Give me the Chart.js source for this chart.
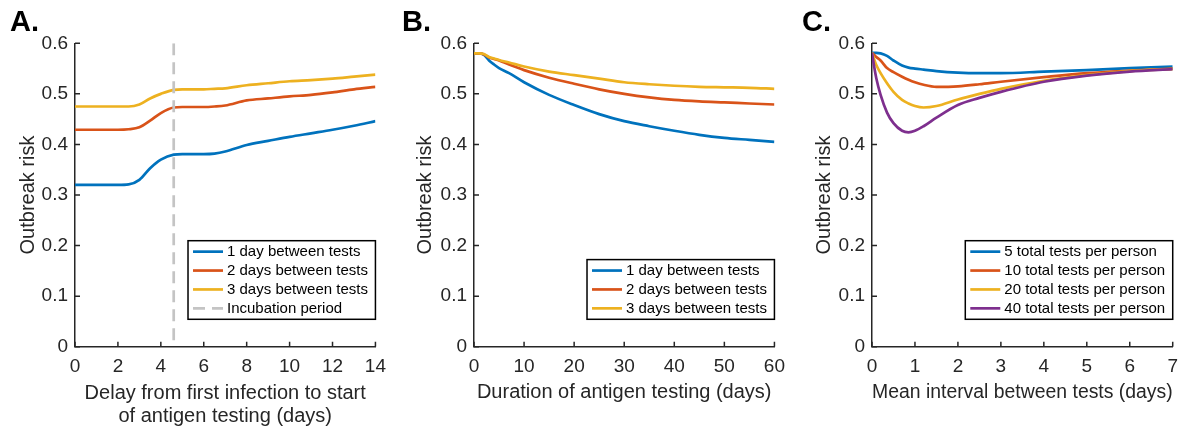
<!DOCTYPE html>
<html>
<head>
<meta charset="utf-8">
<script src="https://cdn.jsdelivr.net/npm/chart.js@4"></script>
<style>
  body { margin: 0; background: #fff; }
  #wrap { position: relative; width: 1187px; height: 430px; overflow: hidden; }
  .panel { position: absolute; top: 0; height: 430px; }
  .tag { position: absolute; top: 6px; font: bold 29px "Liberation Sans", Arial, sans-serif; line-height: 30px; color: #000; }
</style>
</head>
<body>
<div id="wrap">
  <div class="panel" style="left:0;width:395px"><canvas id="chartA"></canvas></div>
  <div class="panel" style="left:399px;width:395px"><canvas id="chartB"></canvas></div>
  <div class="panel" style="left:797px;width:390px"><canvas id="chartC"></canvas></div>
  <div class="tag" style="left:10px">A.</div>
  <div class="tag" style="left:402px">B.</div>
  <div class="tag" style="left:802px">C.</div>
</div>
<script>
// colours (MATLAB default order)
const blue = '#0072BD', orange = '#D95319', yellow = '#EDB120', purple = '#7E2F8E';
const ink = '#262626';
const fam = '"Liberation Sans", Helvetica, Arial, sans-serif';

// y axis shared by all panels
const yTicks = [0, 0.1, 0.2, 0.3, 0.4, 0.5, 0.6];

// panel A: delay before antigen testing starts
const delayDays = [0, 1, 2, 2.5, 3, 3.5, 4, 4.6, 5, 6, 6.5, 7, 8, 9, 10, 11, 12, 13, 14];
const delay1 = [0.32, 0.32, 0.32, 0.321, 0.33, 0.353, 0.37, 0.38, 0.381, 0.381, 0.382, 0.386, 0.399, 0.407, 0.415, 0.422, 0.429, 0.437, 0.446];
const delay2 = [0.429, 0.429, 0.429, 0.43, 0.434, 0.447, 0.462, 0.473, 0.474, 0.474, 0.475, 0.477, 0.487, 0.491, 0.495, 0.498, 0.503, 0.509, 0.514];
const delay3 = [0.475, 0.475, 0.475, 0.475, 0.479, 0.491, 0.5, 0.508, 0.509, 0.509, 0.51, 0.511, 0.517, 0.521, 0.525, 0.527, 0.53, 0.534, 0.538];
const incubation = 4.6;
const labelsAB = ['1 day between tests', '2 days between tests', '3 days between tests'];

// panel B: duration of testing
const durDays = [0, 1, 2, 3, 4, 5, 7, 10, 15, 20, 25, 30, 35, 40, 45, 50, 55, 60];
const dur1 = [0.58, 0.58, 0.577, 0.566, 0.558, 0.551, 0.541, 0.523, 0.498, 0.478, 0.46, 0.446, 0.436, 0.427, 0.419, 0.413, 0.409, 0.405];
const dur2 = [0.58, 0.58, 0.578, 0.572, 0.569, 0.566, 0.558, 0.547, 0.532, 0.52, 0.509, 0.5, 0.493, 0.488, 0.485, 0.483, 0.481, 0.479];
const dur3 = [0.58, 0.58, 0.579, 0.573, 0.57, 0.567, 0.562, 0.554, 0.544, 0.537, 0.53, 0.523, 0.519, 0.516, 0.514, 0.513, 0.512, 0.51];

// panel C: mean interval between tests
const interval = [0, 0.05, 0.1, 0.2, 0.35, 0.5, 0.7, 0.85, 1, 1.2, 1.5, 2, 2.5, 3, 4, 5, 6, 7];
const tests5 = [0.581, 0.581, 0.581, 0.58, 0.575, 0.566, 0.556, 0.552, 0.55, 0.548, 0.545, 0.542, 0.541, 0.541, 0.544, 0.547, 0.551, 0.554];
const tests10 = [0.581, 0.577, 0.573, 0.566, 0.551, 0.543, 0.534, 0.528, 0.523, 0.518, 0.514, 0.515, 0.519, 0.524, 0.533, 0.541, 0.546, 0.55];
const tests20 = [0.581, 0.568, 0.557, 0.541, 0.521, 0.504, 0.488, 0.481, 0.476, 0.473, 0.476, 0.489, 0.5, 0.51, 0.526, 0.537, 0.545, 0.549];
const tests40 = [0.581, 0.554, 0.531, 0.498, 0.463, 0.442, 0.427, 0.424, 0.427, 0.436, 0.453, 0.478, 0.492, 0.504, 0.524, 0.536, 0.544, 0.549];
const labelsC = ['5 total tests per person', '10 total tests per person', '20 total tests per person', '40 total tests per person'];

function pts(xs, ys) {
    return xs.map((x, i) => ({ x: x, y: ys[i] }));
}

function series(label, xs, ys, color, i) {
    return {
        label: label, data: pts(xs, ys), borderColor: color, borderWidth: 2.7,
        pointRadius: 0, fill: false, cubicInterpolationMode: 'monotone', order: 10 - i
    };
}

// MATLAB style inward ticks
const inTicks = {
    id: 'inTicks',
    afterDraw(chart) {
        const ctx = chart.ctx, xs = chart.scales.x, ys = chart.scales.y;
        const a = chart.chartArea;
        ctx.save();
        ctx.strokeStyle = ink;
        ctx.lineWidth = 1.5;
        ctx.beginPath();
        xs.ticks.forEach(t => {
            const p = xs.getPixelForValue(t.value);
            ctx.moveTo(p, a.bottom); ctx.lineTo(p, a.bottom - 5);
        });
        ys.ticks.forEach(t => {
            const p = ys.getPixelForValue(t.value);
            ctx.moveTo(a.left, p); ctx.lineTo(a.left + 5, p);
        });
        ctx.stroke();
        ctx.restore();
    }
};

// boxed legend in the lower right corner
const boxLegend = {
    id: 'boxLegend',
    afterDraw(chart) {
        const ctx = chart.ctx, a = chart.chartArea;
        const sets = chart.data.datasets;
        const rowH = 18.9;
        ctx.save();
        ctx.font = '15px ' + fam;
        const tw = Math.max(...sets.map(d => ctx.measureText(d.label).width));
        const w = 5 + 30 + 4 + tw + 7.5;
        const h = rowH * sets.length + 3;
        const right = a.right, bottom = a.bottom - 27.4;
        const left = right - w, top = bottom - h;
        ctx.fillStyle = '#fff';
        ctx.fillRect(left, top, w, h);
        sets.forEach((d, i) => {
            const cy = top + 1.5 + rowH * (i + 0.5);
            ctx.strokeStyle = d.borderColor;
            ctx.lineWidth = 2.7;
            ctx.setLineDash(d.borderDash || []);
            ctx.beginPath();
            ctx.moveTo(left + 5, cy); ctx.lineTo(left + 35, cy);
            ctx.stroke();
            ctx.fillStyle = '#000';
            ctx.textBaseline = 'middle';
            ctx.fillText(d.label, left + 39, cy + 0.5);
        });
        ctx.setLineDash([]);
        ctx.strokeStyle = '#000';
        ctx.lineWidth = 1.5;
        ctx.strokeRect(left, top, w, h);
        ctx.restore();
    }
};

function makeChart(id, datasets, xMax, xStep, xTitle, xTitlePad, yTitlePad, rightPad) {
    return new Chart(document.getElementById(id), {
        type: 'line',
        data: { datasets: datasets },
        plugins: [inTicks, boxLegend],
        options: {
            responsive: true,
            maintainAspectRatio: false,
            animation: false,
            layout: { padding: { top: 43.3, right: rightPad, left: 0, bottom: 0 } },
            plugins: { legend: { display: false }, tooltip: { enabled: false } },
            scales: {
                x: {
                    type: 'linear', min: 0, max: xMax,
                    grid: { display: false, drawTicks: false },
                    border: { display: true, color: ink, width: 1.5 },
                    ticks: { stepSize: xStep, autoSkip: false, maxRotation: 0, padding: 9, color: ink, font: { family: fam, size: 19 } },
                    title: { display: true, text: xTitle, color: ink, padding: { top: 0, bottom: xTitlePad }, font: { family: fam, size: 20, lineHeight: 1.15 } },
                    afterFit(s) { s.height = 83.3; }
                },
                y: {
                    min: 0, max: 0.6,
                    afterBuildTicks(s) { s.ticks = yTicks.map(v => ({ value: v })); },
                    grid: { display: false, drawTicks: false },
                    border: { display: true, color: ink, width: 1.5 },
                    ticks: { padding: 7, color: ink, font: { family: fam, size: 19 }, callback: v => String(Math.round(v * 10) / 10) },
                    title: { display: true, text: 'Outbreak risk', color: ink, padding: { top: yTitlePad, bottom: 0 }, font: { family: fam, size: 20, lineHeight: 1.2 } },
                    afterFit(s) { s.width = 75; }
                }
            }
        }
    });
}

const setsA = [
    series(labelsAB[0], delayDays, delay1, blue, 0),
    series(labelsAB[1], delayDays, delay2, orange, 1),
    series(labelsAB[2], delayDays, delay3, yellow, 2),
    {
        // drawn top-down so the dash pattern starts at the top of the axes
        label: 'Incubation period', data: [{ x: incubation, y: 0.6 }, { x: incubation, y: 0 }],
        borderColor: '#C4C4C4', borderWidth: 2.7, borderDash: [12, 7], pointRadius: 0,
        tension: 0, fill: false, order: 0
    }
];

const setsB = [
    series(labelsAB[0], durDays, dur1, blue, 0),
    series(labelsAB[1], durDays, dur2, orange, 1),
    series(labelsAB[2], durDays, dur3, yellow, 2)
];

const setsC = [
    series(labelsC[0], interval, tests5, blue, 0),
    series(labelsC[1], interval, tests10, orange, 1),
    series(labelsC[2], interval, tests20, yellow, 2),
    series(labelsC[3], interval, tests40, purple, 3)
];

makeChart('chartA', setsA, 14, 2, ['Delay from first infection to start', 'of antigen testing (days)'], 2.5, 16, 17.3);
makeChart('chartB', setsB, 60, 10, 'Duration of antigen testing (days)', 26, 14.7, 17.3);
makeChart('chartC', setsC, 7, 1, 'Mean interval between tests (days)', 26, 15.7, 12);
</script>
</body>
</html>
